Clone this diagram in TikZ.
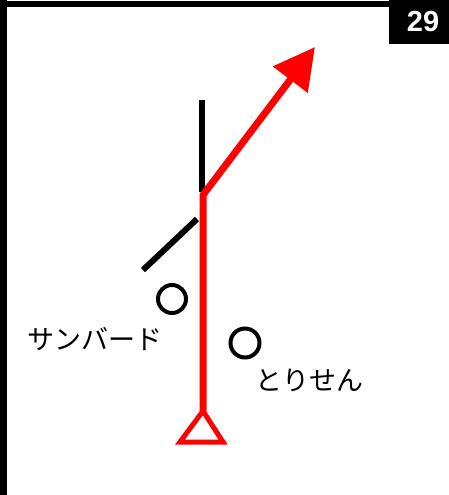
\documentclass[tikz,border=0pt]{standalone}
\usepackage{fontspec}
\setmainfont{Liberation Sans}
\newfontfamily\jpfont{Noto Sans CJK JP}
\usetikzlibrary{arrows.meta}

\begin{document}
\begin{tikzpicture}[x=1pt, y=-1pt,
  frame/.style={fill=black, draw=none},
  track/.style={draw=red, line width=7pt},
  road/.style={draw=black, line width=6pt},
  shop/.style={draw=black, line width=4pt},
  label/.style={font=\jpfont\fontsize{27}{27}\selectfont, inner sep=0pt}]
\useasboundingbox (0,0) rectangle (449,495);
% frame and page number
\fill[frame] (0,0) rectangle (7,495);
\fill[frame] (0,1) rectangle (389,7);
\fill[frame] (389,0) rectangle (449,44);
\node[text=white, font=\bfseries\fontsize{29}{29}\selectfont, inner sep=0pt] (num) at (423,22) {29};
% roads
\coordinate (rtop) at (202,100);
\coordinate (rjoin) at (202,192);
\coordinate (dtop) at (197,219);
\coordinate (dbot) at (143,270);
\draw[road] (rtop) -- (rjoin);
\draw[road] (dbot) -- (dtop);
% route
\coordinate (start) at (203,411);
\coordinate (turn) at (203,195);
\coordinate (goal) at (315,47);
\draw[track, -{Triangle[length=41pt, width=42pt]}] (start) -- (turn) -- (goal);
\draw[draw=red, line width=5pt] (start) -- (223,442) -- (180,442) -- cycle;
% landmarks
\draw[shop] (172,299) circle (14);
\draw[shop] (245,343) circle (14.5);
\node[label] (sunbird) at (95,339) {サンバード};
\node[label] (torisen) at (309,380) {とりせん};
\end{tikzpicture}
\end{document}
